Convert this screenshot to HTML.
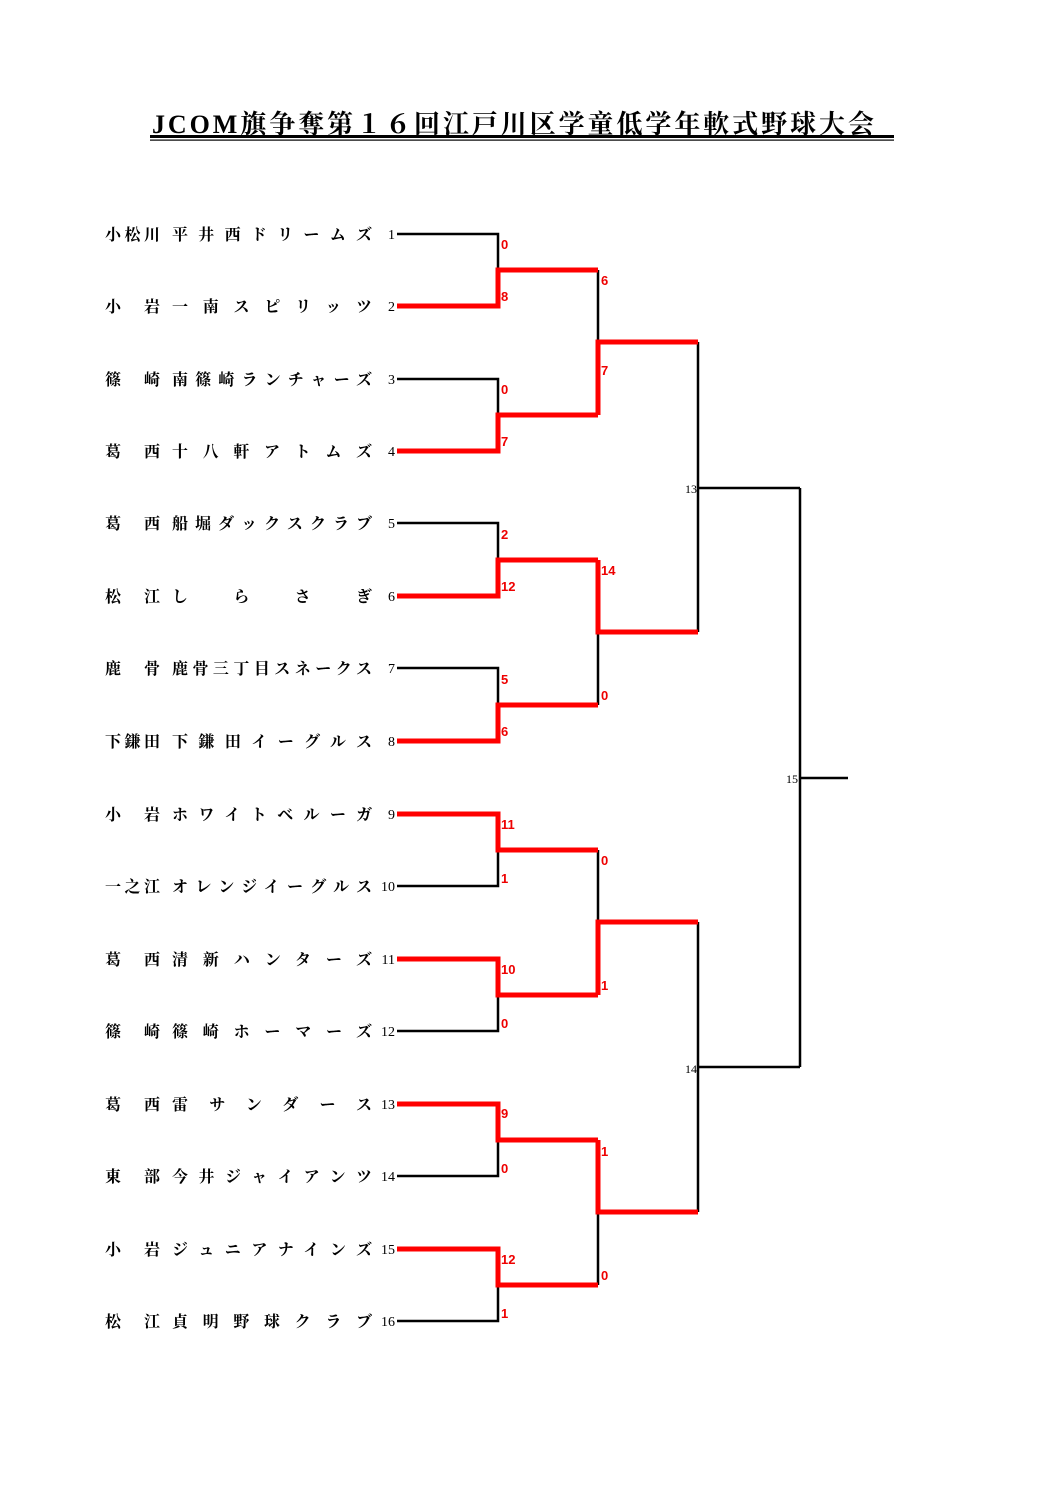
<!DOCTYPE html>
<html><head><meta charset="utf-8"><style>
html,body{margin:0;padding:0;background:#fff;}
svg{display:block;}
.t{font-family:"Liberation Serif","Noto Serif CJK SC",serif;font-size:16px;font-weight:bold;fill:#000;}
.n{font-family:"Liberation Serif",serif;font-size:14px;fill:#000;}
.s{font-family:"Liberation Sans",sans-serif;font-size:13px;font-weight:bold;fill:#e00;}
</style></head><body>
<svg width="1058" height="1497" viewBox="0 0 1058 1497" xmlns="http://www.w3.org/2000/svg">
<text x="152" y="133" textLength="722" lengthAdjust="spacing" style="font-family:'Liberation Serif','Noto Serif CJK SC',serif;font-size:26px;font-weight:bold;">JCOM旗争奪第１６回江戸川区学童低学年軟式野球大会</text>
<rect x="150" y="135" width="744" height="3" fill="#000"/>
<rect x="150" y="139.5" width="744" height="1.2" fill="#000"/>

<g class="t">
<text x="105" y="240" textLength="55" lengthAdjust="spacing">小松川</text><text x="172" y="240" textLength="200" lengthAdjust="spacing">平井西ドリームズ</text>
<text x="105" y="312" textLength="55" lengthAdjust="spacing">小岩</text><text x="172" y="312" textLength="200" lengthAdjust="spacing">一南スピリッツ</text>
<text x="105" y="385" textLength="55" lengthAdjust="spacing">篠崎</text><text x="172" y="385" textLength="200" lengthAdjust="spacing">南篠崎ランチャーズ</text>
<text x="105" y="457" textLength="55" lengthAdjust="spacing">葛西</text><text x="172" y="457" textLength="200" lengthAdjust="spacing">十八軒アトムズ</text>
<text x="105" y="529" textLength="55" lengthAdjust="spacing">葛西</text><text x="172" y="529" textLength="200" lengthAdjust="spacing">船堀ダックスクラブ</text>
<text x="105" y="602" textLength="55" lengthAdjust="spacing">松江</text><text x="172" y="602" textLength="200" lengthAdjust="spacing">しらさぎ</text>
<text x="105" y="674" textLength="55" lengthAdjust="spacing">鹿骨</text><text x="172" y="674" textLength="200" lengthAdjust="spacing">鹿骨三丁目スネークス</text>
<text x="105" y="747" textLength="55" lengthAdjust="spacing">下鎌田</text><text x="172" y="747" textLength="200" lengthAdjust="spacing">下鎌田イーグルス</text>
<text x="105" y="820" textLength="55" lengthAdjust="spacing">小岩</text><text x="172" y="820" textLength="200" lengthAdjust="spacing">ホワイトベルーガ</text>
<text x="105" y="892" textLength="55" lengthAdjust="spacing">一之江</text><text x="172" y="892" textLength="200" lengthAdjust="spacing">オレンジイーグルス</text>
<text x="105" y="965" textLength="55" lengthAdjust="spacing">葛西</text><text x="172" y="965" textLength="200" lengthAdjust="spacing">清新ハンターズ</text>
<text x="105" y="1037" textLength="55" lengthAdjust="spacing">篠崎</text><text x="172" y="1037" textLength="200" lengthAdjust="spacing">篠崎ホーマーズ</text>
<text x="105" y="1110" textLength="55" lengthAdjust="spacing">葛西</text><text x="172" y="1110" textLength="200" lengthAdjust="spacing">雷サンダース</text>
<text x="105" y="1182" textLength="55" lengthAdjust="spacing">東部</text><text x="172" y="1182" textLength="200" lengthAdjust="spacing">今井ジャイアンツ</text>
<text x="105" y="1255" textLength="55" lengthAdjust="spacing">小岩</text><text x="172" y="1255" textLength="200" lengthAdjust="spacing">ジュニアナインズ</text>
<text x="105" y="1327" textLength="55" lengthAdjust="spacing">松江</text><text x="172" y="1327" textLength="200" lengthAdjust="spacing">貞明野球クラブ</text>
</g>
<g class="n" text-anchor="end">
<text x="395" y="239">1</text><text x="395" y="311">2</text><text x="395" y="384">3</text><text x="395" y="456">4</text>
<text x="395" y="528">5</text><text x="395" y="601">6</text><text x="395" y="673">7</text><text x="395" y="746">8</text>
<text x="395" y="819">9</text><text x="395" y="891">10</text><text x="395" y="964">11</text><text x="395" y="1036">12</text>
<text x="395" y="1109">13</text><text x="395" y="1181">14</text><text x="395" y="1254">15</text><text x="395" y="1326">16</text>
<text x="697" y="493" style="font-size:12px">13</text><text x="697" y="1073" style="font-size:12px">14</text><text x="798" y="783" style="font-size:12px">15</text>
</g>

<g stroke="#000" stroke-width="2.5" fill="none">
<path d="M397 234H498V270"/>
<path d="M397 379H498V415"/>
<path d="M397 523H498V560"/>
<path d="M397 668H498V705"/>
<path d="M397 886H498V850"/>
<path d="M397 1031H498V995"/>
<path d="M397 1176H498V1140"/>
<path d="M397 1321H498V1285"/>
<path d="M598 270V342"/>
<path d="M598 705V632"/>
<path d="M598 850V922"/>
<path d="M598 1285V1212"/>
<path d="M698 342V632"/>
<path d="M698 488H800"/>
<path d="M698 922V1212"/>
<path d="M698 1067H800"/>
<path d="M800 488V1067"/>
<path d="M800 778H848"/>
</g>
<g stroke="#f00" stroke-width="5" fill="none" stroke-linejoin="miter">
<path d="M397 306H498V270H598"/>
<path d="M397 451H498V415H598"/>
<path d="M397 596H498V560H598"/>
<path d="M397 741H498V705H598"/>
<path d="M397 814H498V850H598"/>
<path d="M397 959H498V995H598"/>
<path d="M397 1104H498V1140H598"/>
<path d="M397 1249H498V1285H598"/>
<path d="M598 415V342H698"/>
<path d="M598 560V632H698"/>
<path d="M598 995V922H698"/>
<path d="M598 1140V1212H698"/>
</g>

<g class="s">
<text x="501" y="249">0</text><text x="501" y="301">8</text>
<text x="501" y="394">0</text><text x="501" y="446">7</text>
<text x="501" y="539">2</text><text x="501" y="591">12</text>
<text x="501" y="684">5</text><text x="501" y="736">6</text>
<text x="501" y="829">11</text><text x="501" y="883">1</text>
<text x="501" y="974">10</text><text x="501" y="1028">0</text>
<text x="501" y="1118">9</text><text x="501" y="1173">0</text>
<text x="501" y="1264">12</text><text x="501" y="1318">1</text>
<text x="601" y="285">6</text><text x="601" y="375">7</text>
<text x="601" y="575">14</text><text x="601" y="700">0</text>
<text x="601" y="865">0</text><text x="601" y="990">1</text>
<text x="601" y="1156">1</text><text x="601" y="1280">0</text>
</g>
</svg>
</body></html>
